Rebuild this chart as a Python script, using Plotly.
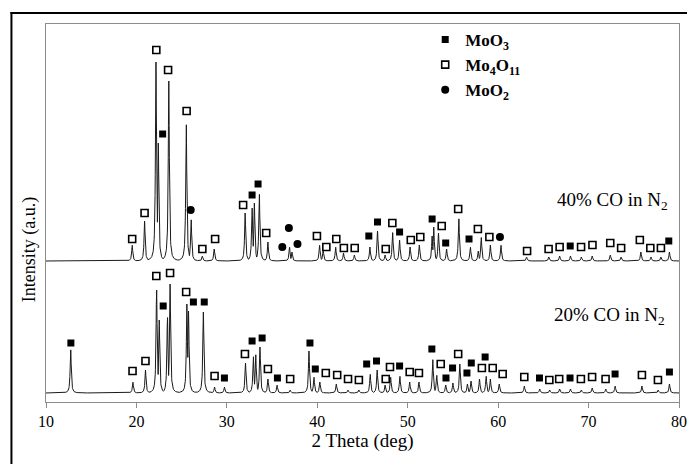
import numpy as np
import plotly.graph_objects as go

# ---------------- data ----------------
# 40% CO in N2 : peak positions (2theta, deg) and net peak heights (a.u.)
peaks40_2theta = [19.53, 20.9, 22.16, 22.42, 23.58, 25.51, 26.05, 27.29, 28.6,
                  32.02, 32.79, 33.04, 33.59, 34.54, 36.93, 37.2, 40.25, 40.65,
                  42.03, 42.9, 44.1, 45.82, 46.66, 47.5, 48.33, 49.1, 50.26,
                  51.28, 52.7, 52.88, 53.4, 54.3, 55.65, 56.93, 57.8, 58.13,
                  59.14, 60.31, 63.15, 65.6, 66.8, 68.0, 69.2, 70.4, 72.4,
                  73.6, 75.78, 76.9, 78.0, 78.94]
peaks40_height = [16, 40, 199, 118, 180, 139, 42, 5, 12,
                  48, 54, 58, 68, 19, 14, 9, 16, 11,
                  14, 8, 6, 14, 30, 6, 29, 21, 14,
                  16, 25, 34, 28, 12, 43, 14, 10, 24,
                  16, 16, 4, 4, 5, 5, 4, 5, 6,
                  4, 9, 4, 4, 9]
base40 = 142

# 20% CO in N2
peaks20_2theta = [12.73, 19.61, 21.0, 22.23, 22.52, 23.43, 23.72, 25.58, 25.76,
                  27.4, 28.64, 29.73, 32.06, 32.93, 33.19, 33.66, 34.54, 35.55,
                  37.0, 39.08, 39.63, 40.28, 42.1, 43.4, 44.6, 45.85, 46.62,
                  47.5, 48.11, 49.13, 50.22, 51.24, 52.77, 53.21, 54.2, 55.0,
                  55.76, 56.6, 57.0, 57.94, 58.67, 59.14, 60.12, 62.89, 64.6,
                  65.7, 66.8, 68.0, 69.2, 70.4, 71.9, 72.93, 75.9, 77.7, 78.94]
peaks20_height = [44, 11, 23, 105, 73, 77, 109, 89, 82,
                  81, 6, 6, 30, 37, 39, 46, 14, 8,
                  3, 42, 16, 11, 9, 3, 3, 19, 23,
                  8, 16, 17, 11, 11, 34, 18, 8, 10,
                  29, 9, 12, 14, 17, 14, 9, 7, 4,
                  3, 4, 4, 3, 5, 4, 7, 7, 3, 9]
base20 = 10

# phase markers (2theta, intensity)
moo3_40_x = [22.9, 32.79, 33.45, 45.7, 46.66, 49.1, 52.7, 54.2, 56.78, 67.97, 78.87]
moo3_40_y = [269, 208, 219, 167, 181, 171, 184, 160, 164, 157, 162]
mo4o11_40_x = [19.53, 20.9, 22.2, 23.5, 25.55, 27.29, 28.7, 31.8, 34.35, 39.96,
               41.0, 42.1, 42.94, 44.14, 47.57, 48.3, 50.34, 51.39, 53.76, 55.58,
               57.76, 59.03, 63.2, 65.58, 66.8, 69.17, 70.43, 72.4, 73.6, 75.67,
               76.83, 78.0]
mo4o11_40_y = [164, 190, 353, 333, 292, 154, 164, 198, 170, 167,
               156, 164, 155, 155, 154, 180, 163, 166, 177, 194,
               174, 166, 152, 154, 156, 156, 158, 160, 155, 163,
               155, 155]
moo2_40_x = [26.0, 36.13, 36.86, 37.81, 60.2]
moo2_40_y = [193, 156, 175, 159, 166]

moo3_20_x = [12.75, 22.96, 26.3, 27.5, 29.73, 32.79, 33.9, 35.59, 39.19, 39.78,
             45.46, 46.55, 49.1, 52.67, 54.23, 54.96, 56.55, 57.03, 58.56, 64.57,
             67.95, 72.93, 78.94]
moo3_20_y = [60, 97, 101, 101, 25, 62, 65, 25, 60, 34,
             39, 42, 37, 54, 25, 35, 30, 40, 46, 25,
             25, 29, 31]
mo4o11_20_x = [19.57, 21.0, 22.2, 23.72, 25.5, 28.64, 32.0, 34.54, 37.0, 40.94,
               42.2, 43.4, 44.6, 47.57, 48.04, 50.22, 51.24, 53.65, 55.58, 58.2,
               59.4, 60.5, 62.89, 65.66, 66.75, 69.15, 70.39, 71.88, 75.9, 77.67]
mo4o11_20_y = [32, 42, 127, 130, 111, 27, 49, 34, 24, 30,
               28, 24, 23, 24, 36, 31, 30, 39, 49, 35,
               35, 29, 26, 23, 24, 24, 26, 24, 28, 23]

x_ticks = [10, 20, 30, 40, 50, 60, 70, 80]

# ---------------- build the patterns ----------------
grid = np.arange(10.0, 80.0001, 0.02)


def pattern(pos, hts, base):
    y = np.zeros_like(grid)
    for p, h in zip(pos, hts):
        shape = h / (1.0 + ((grid - p) / 0.07) ** 2)
        y = np.maximum(y, shape)
    return base + y


y40 = pattern(peaks40_2theta, peaks40_height, base40)
y20 = pattern(peaks20_2theta, peaks20_height, base20)

fig = go.Figure()
line_style = dict(color="#1a1a1a", width=1)
fig.add_trace(go.Scatter(x=grid, y=y40, mode="lines", line=line_style,
                         showlegend=False, hoverinfo="skip"))
fig.add_trace(go.Scatter(x=grid, y=y20, mode="lines", line=line_style,
                         showlegend=False, hoverinfo="skip"))

filled_sq = dict(symbol="square", size=7, color="black")
open_sq = dict(symbol="square-open", size=7, color="black", line=dict(width=1.6, color="black"))
dot = dict(symbol="circle", size=8, color="black")

fig.add_trace(go.Scatter(x=moo3_40_x, y=moo3_40_y, mode="markers", marker=filled_sq,
                         name="<b>MoO<sub>3</sub></b>", legendgroup="a"))
fig.add_trace(go.Scatter(x=mo4o11_40_x, y=mo4o11_40_y, mode="markers", marker=open_sq,
                         name="<b>Mo<sub>4</sub>O<sub>11</sub></b>", legendgroup="b"))
fig.add_trace(go.Scatter(x=moo2_40_x, y=moo2_40_y, mode="markers", marker=dot,
                         name="<b>MoO<sub>2</sub></b>", legendgroup="c"))
fig.add_trace(go.Scatter(x=moo3_20_x, y=moo3_20_y, mode="markers", marker=filled_sq,
                         showlegend=False, legendgroup="a"))
fig.add_trace(go.Scatter(x=mo4o11_20_x, y=mo4o11_20_y, mode="markers", marker=open_sq,
                         showlegend=False, legendgroup="b"))

serif = "Liberation Serif, Times New Roman, serif"

# page has an 8 px body margin; plot area on screen: x 46..687, y 24..402
OFF = 8
FIG_W, FIG_H = 695 - OFF, 464 - OFF
PL, PR, PT, PB = 46, 687, 24, 402


def px_x(p):
    return (p - PL) / float(PR - PL)


def px_y(p):
    return (PB - p) / float(PB - PT)


fig.update_layout(
    width=FIG_W, height=FIG_H,
    margin=dict(l=PL - OFF, r=FIG_W - (PR - OFF), t=PT - OFF, b=FIG_H - (PB - OFF)),
    paper_bgcolor="white", plot_bgcolor="white",
    font=dict(family=serif, size=16, color="black"),
    showlegend=True,
    legend=dict(x=px_x(430), y=px_y(22), xanchor="left", yanchor="top",
                font=dict(family=serif, size=17, color="black"),
                bgcolor="rgba(0,0,0,0)", borderwidth=0, tracegroupgap=0),
    xaxis=dict(range=[10, 80], tickvals=x_ticks, ticktext=[str(t) for t in x_ticks],
               showgrid=False, zeroline=False, showline=True, linecolor="#8c8c8c",
               linewidth=1, mirror=True, ticks="outside", ticklen=5, tickcolor="#8c8c8c",
               tickfont=dict(family=serif, size=16, color="black"),
               title=dict(text="2 Theta (deg)", font=dict(family=serif, size=19, color="black"),
                          standoff=4)),
    yaxis=dict(range=[1, 379], showgrid=False, zeroline=False, showline=True,
               linecolor="#8c8c8c", linewidth=1, mirror=True, showticklabels=False,
               ticks=""),
    annotations=[
        dict(text="Intensity (a.u.)", xref="paper", yref="paper", x=px_x(29), y=px_y(250),
             xanchor="center", yanchor="middle",
             showarrow=False, textangle=-90, font=dict(family=serif, size=18, color="black")),
        dict(text="40% CO in N<sub>2</sub>", xref="paper", yref="paper", x=px_x(620), y=px_y(201),
             xanchor="center", yanchor="middle",
             showarrow=False, font=dict(family=serif, size=19, color="black")),
        dict(text="20% CO in N<sub>2</sub>", xref="paper", yref="paper", x=px_x(617), y=px_y(316),
             xanchor="center", yanchor="middle",
             showarrow=False, font=dict(family=serif, size=19, color="black")),
    ],
    shapes=[
        dict(type="line", xref="paper", yref="paper", x0=px_x(10), x1=px_x(700),
             y0=px_y(13), y1=px_y(13), line=dict(color="black", width=2)),
        dict(type="line", xref="paper", yref="paper", x0=px_x(11), x1=px_x(11),
             y0=px_y(12), y1=px_y(470), line=dict(color="black", width=2)),
    ],
)

fig.write_html("out.html")
